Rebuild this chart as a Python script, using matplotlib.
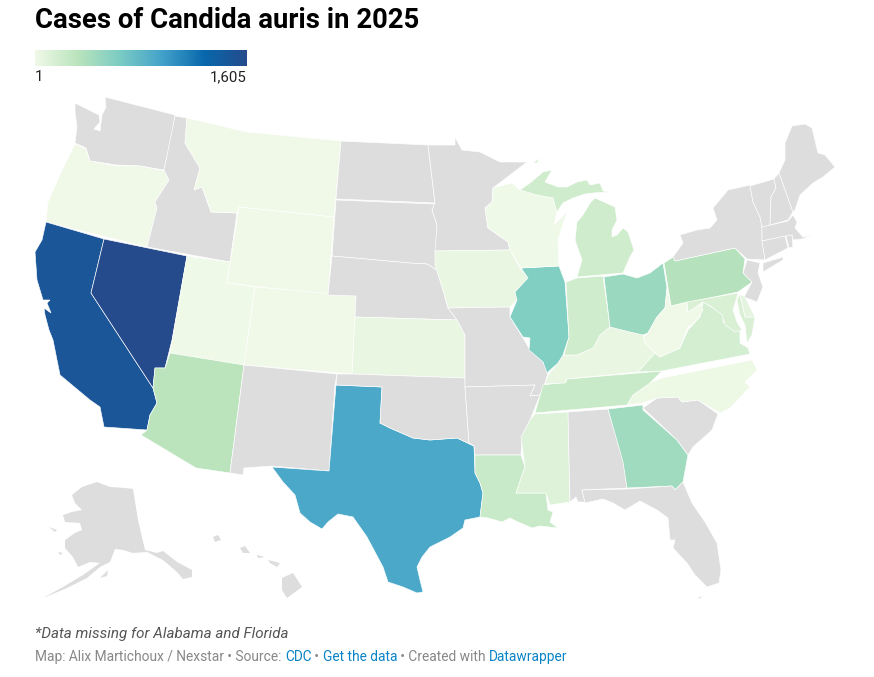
import matplotlib
matplotlib.use("Agg")
import matplotlib.pyplot as plt
import numpy as np
from matplotlib.colors import LinearSegmentedColormap, Normalize
from matplotlib.patches import Polygon

# estimated case counts, None = no data
states = ["WA", "OR", "CA", "NV", "ID", "MT", "WY", "UT", "CO", "AZ", "NM", "TX",
          "ND", "SD", "NE", "KS", "OK", "MN", "IA", "MO", "AR", "LA", "MS", "AL",
          "GA", "SC", "NC", "TN", "KY", "IL", "WI", "MI", "IN", "OH", "PA", "NY",
          "NJ", "VT", "NH", "ME", "MA", "CT", "RI", "VA", "WV", "MD", "DE", "FL",
          "AK", "HI"]
cases = [None, 5, 1480, 1605, None, 4, 3, 8, 6, 320, None, 920,
         None, None, None, 50, None, None, 50, None, None, 238, 120, None,
         450, None, 20, 238, 50, 610, 10, 200, 200, 480, 350, None,
         None, None, None, None, None, None, None, 167, 5, 140, 75, None,
         None, None]

palette = ["#f0f9e8", "#bae4bc", "#7bccc4", "#43a2ca", "#0868ac", "#254b8c"]
legend_min = 1
legend_max = 1605

# state outlines in picture pixels, a state can have more than one part
outlines = {
    "WA": [[(105, 97), (140, 106), (175, 115), (172, 135), (164, 170), (140, 166), (117, 165), (90, 161), (86, 148), (75, 143), (77, 127), (75, 112), (75, 103), (85, 108), (99, 115), (100, 122), (94, 129), (100, 131), (102, 115), (106, 107)]],
    "OR": [[(75, 144), (86, 149), (90, 161), (117, 166), (140, 166), (165, 171), (169, 180), (155, 202), (157, 208), (147, 247), (46, 222), (48, 202), (63, 168)]],
    "CA": [[(46, 222), (104, 239), (91, 293), (153, 388), (157, 403), (150, 415), (147, 430), (104, 427), (100, 407), (90, 400), (78, 390), (60, 375), (53, 340), (49, 330), (45, 315), (44, 308), (51, 313), (47, 303), (50, 300), (43, 300), (37, 280), (35, 252), (42, 240)]],
    "NV": [[(104, 239), (187, 256), (172, 340), (165, 368), (155, 368), (153, 388), (91, 293)]],
    "ID": [[(175, 116), (187, 118), (185, 143), (200, 168), (194, 190), (202, 187), (211, 212), (237, 213), (230, 262), (147, 247), (157, 208), (155, 202), (169, 180), (164, 170)]],
    "MT": [[(187, 118), (247, 132), (341, 141), (334, 217), (239, 207), (237, 213), (211, 212), (202, 187), (194, 190), (200, 168), (185, 143)]],
    "WY": [[(239, 207), (334, 217), (328, 295), (227, 283)]],
    "UT": [[(187, 256), (230, 262), (227, 283), (255, 287), (244, 365), (170, 353)]],
    "CO": [[(255, 287), (356, 296), (352, 374), (244, 365)]],
    "AZ": [[(170, 353), (244, 365), (230, 473), (196, 468), (141, 435), (147, 430), (150, 415), (157, 403), (153, 388), (155, 368), (165, 368)]],
    "NM": [[(244, 365), (337, 374), (335, 385), (329, 471), (272, 466), (244, 468), (243, 475), (230, 473)]],
    "TX": [[(336, 385), (382, 387), (380, 423), (390, 428), (413, 438), (430, 440), (457, 438), (474, 446), (475, 473), (480, 483), (483, 493), (480, 517), (465, 520), (463, 528), (450, 537), (430, 547), (422, 557), (417, 567), (420, 580), (423, 592), (417, 593), (403, 587), (388, 582), (383, 567), (367, 537), (353, 517), (338, 514), (328, 522), (322, 529), (310, 522), (300, 513), (295, 495), (283, 482), (272, 467), (329, 471)]],
    "ND": [[(341, 141), (428, 145), (435, 203), (336, 199)]],
    "SD": [[(336, 200), (435, 204), (432, 210), (437, 225), (437, 270), (427, 264), (410, 263), (332, 256)]],
    "NE": [[(332, 256), (410, 263), (427, 264), (437, 270), (443, 290), (448, 308), (457, 320), (355, 317), (356, 296), (328, 295)]],
    "KS": [[(355, 317), (457, 320), (465, 335), (465, 378), (352, 374)]],
    "OK": [[(337, 374), (352, 374), (465, 378), (465, 387), (469, 443), (474, 446), (457, 438), (430, 440), (413, 438), (390, 428), (380, 423), (382, 387), (336, 385)]],
    "MN": [[(428, 145), (455, 145), (455, 137), (462, 150), (480, 152), (500, 162), (527, 162), (493, 188), (492, 202), (485, 208), (488, 228), (508, 242), (510, 250), (435, 251), (437, 225), (432, 210), (435, 203)]],
    "IA": [[(435, 251), (510, 250), (520, 268), (528, 278), (515, 292), (517, 300), (510, 307), (448, 308), (443, 290), (435, 265)]],
    "MO": [[(448, 308), (510, 307), (510, 317), (523, 338), (530, 350), (543, 362), (548, 373), (545, 383), (540, 395), (530, 396), (535, 385), (465, 387), (465, 335), (457, 320)]],
    "AR": [[(465, 387), (535, 385), (530, 396), (540, 395), (530, 420), (522, 437), (521, 455), (475, 455), (474, 446), (469, 443)]],
    "LA": [[(475, 455), (521, 455), (525, 467), (516, 493), (546, 493), (548, 510), (553, 512), (550, 522), (558, 528), (540, 526), (532, 528), (518, 522), (510, 518), (502, 522), (488, 518), (480, 517), (483, 493), (480, 483), (475, 473)]],
    "MS": [[(535, 414), (568, 412), (570, 502), (550, 505), (546, 493), (516, 493), (525, 467), (521, 437), (530, 420)]],
    "AL": [[(568, 412), (608, 409), (623, 460), (627, 488), (582, 490), (585, 502), (578, 502), (576, 497), (570, 502)]],
    "GA": [[(608, 409), (643, 405), (643, 410), (677, 440), (688, 455), (683, 482), (675, 490), (672, 486), (627, 488), (623, 462)]],
    "SC": [[(643, 408), (657, 398), (678, 397), (682, 402), (698, 400), (718, 414), (712, 430), (693, 447), (688, 455), (677, 440)]],
    "NC": [[(662, 378), (752, 360), (757, 370), (745, 382), (750, 387), (730, 408), (720, 413), (698, 400), (682, 402), (678, 397), (657, 398), (643, 403), (627, 405), (633, 395), (650, 383)]],
    "TN": [[(662, 371), (650, 383), (633, 395), (627, 405), (535, 413), (543, 385), (566, 382), (567, 379), (638, 373)]],
    "KY": [[(563, 355), (577, 355), (593, 348), (600, 335), (610, 327), (630, 332), (643, 335), (645, 343), (655, 353), (638, 372), (567, 379), (565, 383), (545, 384), (548, 375), (558, 363)]],
    "IL": [[(521, 268), (559, 266), (565, 282), (569, 337), (563, 355), (558, 363), (547, 373), (543, 362), (529, 350), (530, 338), (523, 337), (510, 317), (517, 300), (515, 292), (528, 278)]],
    "WI": [[(493, 188), (512, 183), (520, 190), (537, 195), (553, 198), (557, 212), (554, 225), (567, 212), (558, 240), (559, 266), (521, 268), (510, 250), (508, 242), (488, 228), (485, 208), (492, 202)]],
    "MI": [[(520, 190), (530, 183), (543, 172), (552, 170), (545, 182), (558, 187), (567, 187), (577, 182), (587, 180), (590, 185), (600, 183), (603, 191), (610, 192), (593, 193), (585, 194), (573, 198), (563, 203), (557, 212), (553, 198), (537, 195)],
           [(595, 198), (615, 207), (617, 220), (612, 230), (612, 237), (617, 235), (623, 228), (628, 232), (634, 250), (630, 257), (623, 273), (577, 277), (582, 260), (575, 240), (577, 222), (583, 215), (590, 203)],
           [(533, 163), (540, 158), (537, 163)]],
    "IN": [[(566, 282), (577, 278), (603, 276), (610, 327), (600, 335), (593, 348), (577, 355), (564, 355), (569, 337)]],
    "OH": [[(604, 277), (623, 274), (637, 278), (650, 273), (663, 263), (667, 288), (665, 308), (657, 317), (648, 333), (643, 335), (630, 332), (610, 327)]],
    "PA": [[(664, 263), (673, 257), (675, 261), (735, 248), (745, 259), (743, 273), (752, 282), (738, 292), (671, 306)]],
    "NY": [[(675, 261), (673, 257), (683, 243), (680, 235), (697, 230), (710, 228), (717, 220), (713, 208), (728, 190), (750, 185), (753, 202), (760, 217), (762, 227), (762, 240), (765, 260), (747, 259), (735, 248)],
           [(763, 263), (783, 257), (783, 260), (763, 272)]],
    "NJ": [[(747, 260), (760, 263), (758, 273), (763, 287), (757, 302), (744, 297), (752, 282), (743, 273)]],
    "VT": [[(750, 186), (774, 179), (776, 188), (771, 197), (770, 226), (762, 227), (760, 217), (753, 202)]],
    "NH": [[(774, 179), (779, 173), (793, 212), (788, 220), (770, 225), (771, 197), (776, 188)]],
    "ME": [[(779, 173), (785, 160), (785, 143), (792, 126), (805, 124), (812, 128), (818, 153), (825, 155), (835, 167), (823, 177), (813, 183), (800, 195), (795, 210), (793, 212)]],
    "MA": [[(762, 227), (788, 221), (793, 215), (797, 222), (795, 228), (803, 237), (812, 235), (802, 239), (793, 240), (792, 235), (762, 241)]],
    "CT": [[(762, 241), (785, 236), (788, 248), (765, 260)]],
    "RI": [[(786, 236), (792, 235), (793, 247), (789, 248)]],
    "VA": [[(638, 372), (655, 353), (660, 357), (680, 348), (688, 330), (700, 317), (703, 302), (713, 308), (723, 313), (723, 322), (740, 330), (740, 343), (748, 348), (750, 354), (662, 371)]],
    "WV": [[(671, 306), (687, 302), (687, 312), (700, 302), (703, 310), (697, 320), (688, 327), (680, 348), (660, 357), (655, 353), (645, 343), (643, 337), (648, 333), (657, 317), (665, 308), (667, 288)]],
    "MD": [[(687, 302), (738, 293), (736, 300), (733, 310), (737, 322), (742, 330), (735, 332), (725, 325), (722, 315), (712, 307), (703, 302), (688, 312)],
           [(745, 317), (755, 317), (752, 335), (747, 343), (745, 325), (740, 315), (737, 300), (740, 294)]],
    "DE": [[(740, 294), (745, 297), (755, 317), (745, 317)]],
    "FL": [[(582, 490), (627, 489), (672, 486), (675, 490), (683, 482), (692, 503), (705, 522), (717, 543), (721, 570), (719, 583), (707, 587), (695, 575), (687, 563), (673, 548), (675, 540), (670, 540), (668, 518), (657, 510), (640, 501), (625, 510), (613, 503), (603, 499), (585, 503)],
           [(697, 598), (703, 595), (700, 599)]],
    "AK": [[(97, 482), (110, 487), (125, 488), (133, 489), (138, 520), (145, 550), (157, 553), (163, 551), (177, 562), (192, 570), (192, 577), (183, 579), (177, 572), (163, 560), (147, 552), (133, 553), (123, 550), (115, 549), (110, 562), (100, 567), (87, 578), (67, 588), (43, 598), (63, 587), (83, 575), (100, 563), (90, 562), (78, 567), (73, 557), (65, 548), (65, 540), (75, 533), (82, 530), (80, 523), (65, 522), (63, 515), (72, 512), (82, 510), (75, 503), (72, 495), (82, 487)],
           [(100, 578), (108, 570), (107, 576)],
           [(49, 527), (57, 530), (55, 532)],
           [(58, 552), (63, 553), (60, 555)]],
    "HI": [[(282, 578), (293, 573), (302, 587), (287, 598), (282, 590)],
           [(268, 560), (280, 563), (277, 567), (270, 563)],
           [(257, 555), (265, 557), (258, 558)],
           [(240, 548), (245, 546), (250, 553), (243, 553)],
           [(213, 537), (218, 535), (221, 540), (215, 542)]],
}

fig = plt.figure(figsize=(8.74, 6.77), dpi=100)
ax = fig.add_axes([0, 0, 1, 1])

cmap = LinearSegmentedColormap.from_list("cases", palette)
norm = Normalize(legend_min, legend_max)

# map
for state, value in zip(states, cases):
    color = "#dddddd" if value is None else cmap(norm(value))
    edge = "none" if state in ("AK", "HI") else "white"
    for part in outlines[state]:
        ax.add_patch(Polygon(part, closed=True, facecolor=color, edgecolor=edge, linewidth=0.45))

# legend bar
bar = np.linspace(0, 1, 256).reshape(1, -1)
ax.imshow(bar, cmap=cmap, extent=(35, 247, 66, 50), aspect="auto")
ax.text(35, 81, "1", fontsize=10.8, family="Roboto", color="#222222", ha="left")
ax.text(247, 81, "1,605", fontsize=10.8, family="Roboto", color="#222222", ha="right")

ax.set_xlim(0, 874)
ax.set_ylim(677, 0)
ax.axis("off")

ax.text(35, 21, "Cases of Candida auris in 2025", fontsize=19.8, family="Roboto", weight="bold",
        color="black", va="center", ha="left")
ax.text(35, 638, "*Data missing for Alabama and Florida", fontsize=10.9, family="Roboto", style="italic",
        color="#555555", ha="left")

# footer runs, links are blue
footer = [("Map: Alix Martichoux / Nexstar • Source: ", "#888888"), ("CDC", "#0a84c6"), (" • ", "#888888"),
          ("Get the data", "#0a84c6"), (" • Created with ", "#888888"), ("Datawrapper", "#0a84c6")]
fig.canvas.draw()
renderer = fig.canvas.get_renderer()
x = 35
for run, color in footer:
    t = ax.text(x, 661, run.replace(" ", "\u00a0"), fontsize=9.95, family="Roboto", color=color, ha="left")
    x += t.get_window_extent(renderer).width

fig.savefig("out.png", dpi=100)
